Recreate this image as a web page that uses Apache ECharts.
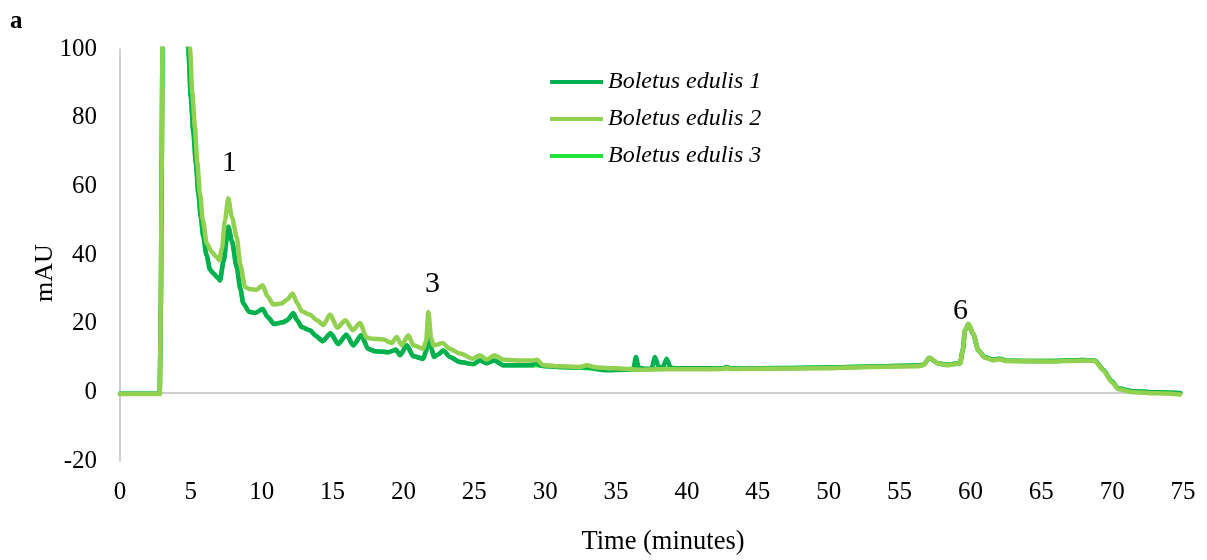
<!DOCTYPE html>
<html>
<head>
<meta charset="utf-8">
<script src="https://cdn.jsdelivr.net/npm/echarts@6/dist/echarts.min.js"></script>
<style>
  html, body { margin: 0; padding: 0; background: #fff; }
  #chart { width: 1207px; height: 560px; }
</style>
</head>
<body>
<div id="chart"></div>
<script>
// HPLC chromatograms, [time (min), absorbance (mAU)]
const seriesNames = ['Boletus edulis 1', 'Boletus edulis 2', 'Boletus edulis 3'];
const seriesColors = ['#00B050', '#92D050', '#22E23C'];

const boletus1 = [
  [0,-0.4],[2.8,-0.4],[2.88,25],[2.94,65],[3.0,105],[3.05,150],[4.0,300],[4.5,135],[4.7,112],
  [4.82,100],[5.0,86],[5.17,76],[5.35,67],[5.53,58],[5.7,51],[5.88,45.3],[6.1,40],[6.35,35.8],
  [6.6,34.6],[6.85,33.6],[7.05,32.6],[7.3,38],[7.64,48.2],[7.9,44],[8.23,36.5],[8.5,30],[8.7,25.9],
  [9.1,23.5],[9.53,23.1],[10.07,24.3],[10.4,22],[10.88,19.9],[11.5,20.4],[11.8,21],[12.23,23],
  [12.5,21],[12.82,19],[13.4,18.1],[13.8,16.5],[14.3,14.9],[14.86,17.2],[15.4,14.1],[15.97,16.8],
  [16.46,13.7],[17.02,16.6],[17.52,12.6],[18.0,12],[18.5,11.8],[18.93,11.7],[19.47,12.4],[19.76,10.8],
  [20.23,13.7],[20.7,10.5],[21.4,9.8],[21.6,12],[21.76,20.5],[21.95,13],[22.15,10.3],[22.45,11],
  [22.8,12.2],[23.28,10.3],[24.0,8.8],[24.93,8.2],[25.4,9.3],[25.87,8.5],[26.41,9.3],[27.05,7.9],
  [28,7.9],[29.1,7.9],[29.28,9.3],[29.6,7.9],[29.9,7.6],[31,7.4],[32.46,7.2],[33,7.4],[33.6,6.8],
  [34.34,6.4],[35.5,6.6],[36.22,6.9],[36.4,10.3],[36.6,7.2],[37.0,6.9],[37.5,6.9],[37.75,10.3],
  [38.0,7.4],[38.3,7.3],[38.57,9.8],[38.85,7.2],[39.2,7.0],[40,7.0],[42.5,7.0],[42.8,7.4],[43.1,7.0],
  [45,7.0],[50,7.2],[53,7.5],[56.2,7.8],[56.7,8.0],[57.1,10.0],[57.7,8.5],[58.3,8.0],[58.9,8.3],
  [59.27,8.5],[59.45,12],[59.62,18],[59.86,19.8],[60.2,17],[60.56,12.2],[61.03,10.2],[61.62,9.5],
  [62.04,9.8],[62.56,9.2],[65.6,9.1],[67.97,9.4],[68.8,9.2],[69.38,6.6],[69.97,3.2],[70.44,1.1],
  [71.5,0.3],[73,0],[74.8,-0.2]
];

const boletus2 = [
  [0,-0.5],[2.8,-0.5],[2.88,25],[2.94,65],[3.0,105],[3.05,150],[4.0,300],[4.6,135],[4.8,110],
  [4.94,100],[5.1,87],[5.29,77],[5.45,67],[5.64,58],[5.85,50],[6.12,43.4],[6.47,40.9],[6.8,39.5],
  [7.0,38.5],[7.2,42],[7.4,50],[7.64,56.5],[7.9,51],[8.23,45.3],[8.5,37],[8.82,30.7],[9.2,30],
  [9.65,29.9],[10.07,31.2],[10.4,28],[10.82,25.6],[11.4,25.9],[11.8,27],[12.18,28.8],[12.5,26],
  [12.82,23.6],[13.4,22.6],[13.9,21],[14.35,19.6],[14.82,22.7],[15.33,18.8],[15.9,21],[16.42,18.1],
  [16.93,20.2],[17.4,16],[17.8,15.6],[18.58,15.4],[19.17,14.4],[19.52,16.1],[19.87,13.7],[20.34,16.6],
  [20.7,13.7],[21.4,12.7],[21.6,15],[21.76,23.4],[21.95,16],[22.1,13.7],[22.4,13.9],[22.75,14.4],
  [23.3,12.6],[24.0,11.3],[24.9,9.8],[25.4,10.8],[25.87,9.5],[26.41,10.8],[27.05,9.5],[28,9.3],
  [29.16,9.3],[29.4,9.5],[29.87,7.9],[31,7.6],[32.46,7.4],[32.93,7.9],[33.63,7.2],[35,7.0],
  [36.7,6.6],[38,6.7],[40,6.7],[42.5,6.8],[42.8,7.1],[43.1,6.8],[45,6.9],[50,7.0],[53,7.4],
  [56.21,7.6],[56.68,7.9],[57.1,10.1],[57.74,8.4],[58.33,7.9],[58.92,8.2],[59.27,8.4],[59.45,12],
  [59.62,18.1],[59.86,20],[60.2,17.1],[60.56,12.2],[61.03,10.1],[61.62,9.3],[62.04,9.6],[62.56,9.1],
  [65.6,9.0],[67.97,9.3],[68.8,9.1],[69.38,6.4],[69.97,3.0],[70.44,0.9],[71.5,0.0],[73,-0.3],[74.8,-0.6]
];

const boletus3 = [
  [0,-0.4],[2.8,-0.4],[2.88,25],[2.94,65],[3.0,105],[3.05,150],[4.0,300],[4.5,135],[4.7,112],
  [4.82,100],[5.0,86],[5.17,76],[5.35,67],[5.53,58],[5.7,51],[5.88,45.3],[6.1,40],[6.35,35.8],
  [6.6,34.6],[6.85,33.6],[7.05,32.6],[7.3,38],[7.64,48.2],[7.9,44],[8.23,36.5],[8.5,30],[8.7,25.9],
  [9.1,23.5],[9.53,23.1],[10.07,24.3],[10.4,22],[10.88,19.9],[11.5,20.4],[11.8,21],[12.23,23],
  [12.5,21],[12.82,19],[13.4,18.1],[13.8,16.5],[14.3,14.9],[14.86,17.2],[15.4,14.1],[15.97,16.8],
  [16.46,13.7],[17.02,16.6],[17.52,12.6],[18.0,12],[18.5,11.8],[18.93,11.7],[19.47,12.4],[19.76,10.8],
  [20.23,13.7],[20.7,10.5],[21.4,9.8],[21.6,12],[21.76,20.5],[21.95,13],[22.15,10.3],[22.45,11],
  [22.8,12.2],[23.28,10.3],[24.0,8.8],[24.93,8.2],[25.4,9.3],[25.87,8.5],[26.41,9.3],[27.05,7.9],
  [28,7.9],[29.1,7.9],[29.6,7.9],[31,7.4],[32.46,7.2],[33.6,6.8],[35.5,6.6],[40,7.0],[45,7.0],
  [50,7.2],[53,7.5],[56.2,7.8],[56.7,8.0],[57.1,10.0],[57.7,8.5],[58.3,8.0],[58.9,8.3],[59.27,8.5],
  [59.45,12],[59.62,18],[59.86,19.8],[60.2,17],[60.56,12.2],[61.03,10.2],[61.62,9.5],[62.04,9.8],
  [62.56,9.2],[65.6,9.1],[67.97,9.4],[68.8,9.2],[69.38,6.6],[69.97,3.2],[70.44,1.1],[71.5,0.3],
  [73,0],[74.8,-0.3]
];

// Peak numbers written above the chromatograms
const peakLabels = ['1', '3', '6'];
const peakTimes = [7.7, 22.05, 59.3];
const peakLabelHeights = [66.9, 31.5, 23.6];

const xTicks = { min: 0, max: 75, interval: 5 };
const yTicks = { min: -20, max: 100, interval: 20 };

const serif = '"Liberation Serif", "Times New Roman", serif';
const chart = echarts.init(document.getElementById('chart'), null, { renderer: 'canvas' });

function lineSeries(idx, data, z) {
  return {
    name: seriesNames[idx],
    type: 'line',
    data: data,
    showSymbol: false,
    symbol: 'none',
    smooth: 0.25,
    smoothMonotone: 'x',
    clip: true,
    z: z,
    color: seriesColors[idx],
    lineStyle: { width: 4.5, color: seriesColors[idx], join: 'round', cap: 'round' }
  };
}

chart.setOption({
  animation: false,
  backgroundColor: '#ffffff',
  grid: { left: 120, right: 24, top: 49, bottom: 99, containLabel: false },
  legend: {
    data: seriesNames,
    orient: 'vertical',
    left: 545,
    top: 65,
    icon: 'rect',
    itemWidth: 53,
    itemHeight: 4,
    itemGap: 13,
    textStyle: {
      fontFamily: serif, fontStyle: 'italic', fontSize: 24, color: '#000',
      lineHeight: 24
    }
  },
  xAxis: {
    type: 'value',
    min: xTicks.min, max: xTicks.max, interval: xTicks.interval,
    axisLine: { show: true, onZero: true, lineStyle: { color: '#bfbfbf', width: 1.5 } },
    axisTick: { show: false },
    splitLine: { show: false },
    axisLabel: { fontFamily: serif, fontSize: 25, color: '#000', margin: 19 }
  },
  yAxis: {
    type: 'value',
    min: yTicks.min, max: yTicks.max, interval: yTicks.interval,
    axisLine: { show: true, lineStyle: { color: '#bfbfbf', width: 1.5 } },
    axisTick: { show: false },
    splitLine: { show: false },
    axisLabel: { fontFamily: serif, fontSize: 25, color: '#000', margin: 23 }
  },
  graphic: [
    { type: 'text', left: 10, top: 9,
      style: { text: 'a', font: 'bold 25px ' + serif, fill: '#000' } },
    { type: 'text', x: 45, y: 273, rotation: Math.PI / 2,
      style: { text: 'mAU', font: '26px ' + serif, fill: '#000', align: 'center', verticalAlign: 'middle' } },
    { type: 'text', x: 663, y: 542,
      style: { text: 'Time (minutes)', font: '26.5px ' + serif, fill: '#000', align: 'center', verticalAlign: 'middle' } }
  ],
  series: [
    lineSeries(2, boletus3, 1),
    lineSeries(0, boletus1, 2),
    lineSeries(1, boletus2, 3),
    {
      name: 'peaks',
      type: 'scatter',
      symbolSize: 0,
      silent: true,
      z: 4,
      itemStyle: { opacity: 1, color: '#000' },
      data: peakLabels.map((lab, i) => ({ name: lab, value: [peakTimes[i], peakLabelHeights[i]] })),
      label: {
        show: true, position: 'inside', formatter: p => p.name,
        fontFamily: serif, fontSize: 30, color: '#000', opacity: 1,
        textBorderWidth: 0, textBorderColor: 'transparent'
      }
    }
  ]
});
</script>
</body>
</html>
